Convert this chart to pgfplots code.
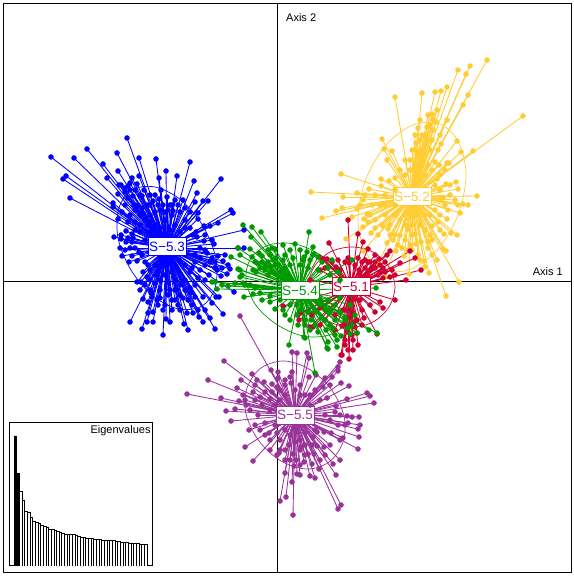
\documentclass[border=0pt]{standalone}
\usepackage{pgfplots}
\usepackage{pgfplotstable}
\usepackage{fontspec}
\setmainfont{Liberation Sans}
\pgfplotsset{compat=1.18}
\definecolor{cred}{HTML}{CC0033}
\definecolor{cyel}{HTML}{FFCC33}
\definecolor{cblu}{HTML}{0000FF}
\definecolor{cgrn}{HTML}{009900}
\definecolor{cpur}{HTML}{993399}
\pgfplotstableread[row sep=\\]{x y\\
51 157\\74 158\\87 149\\127 138\\117 153\\139 158\\156 159\\190 162\\103 164\\118 171\\166 171\\177 176\\139 176\\159 178\\107 178\\132 178\\194 181\\221 179\\66 176\\63 179\\70 198\\119 185\\121 185\\130 183\\137 184\\144 190\\161 190\\197 193\\118 194\\125 192\\142 196\\159 199\\167 197\\175 200\\183 200\\195 202\\203 201\\208 201\\113 203\\113 207\\153 201\\173 211\\198 213\\231 210\\233 213\\118 219\\130 215\\198 219\\218 223\\204 226\\210 226\\244 230\\114 237\\121 235\\126 231\\132 234\\121 239\\133 238\\132 242\\126 242\\120 248\\196 232\\204 241\\197 237\\214 244\\244 248\\238 248\\132 256\\139 252\\122 256\\129 262\\137 261\\207 253\\212 258\\223 261\\228 265\\230 269\\227 274\\221 276\\217 270\\209 275\\143 272\\147 277\\137 282\\141 282\\216 297\\219 297\\234 292\\212 303\\203 297\\223 314\\143 299\\148 302\\151 293\\157 300\\130 322\\147 322\\153 322\\166 319\\170 322\\142 329\\163 335\\184 324\\188 330\\203 322\\210 318\\215 329\\199 317\\193 313\\187 313\\180 310\\163 310\\153 312\\148 313\\195 297\\191 293\\183 298\\177 290\\170 290\\165 275\\175 280\\155 283\\185 280\\195 285\\160 290\\150 280\\172 300\\200 270\\210 262\\195 262\\190 272\\178 270\\165 265\\155 265\\150 270\\145 262\\135 248\\145 240\\150 232\\140 225\\145 220\\135 210\\150 215\\160 210\\165 220\\175 225\\185 220\\190 228\\180 212\\170 205\\150 205\\125 205\\128 198\\134 205\\122 212\\205 265\\200 248\\215 268\\222 268\\155 225\\160 228\\170 230\\180 232\\140 232\\150 222\\172 215\\165 212\\155 212\\135 222\\128 222\\185 265\\180 262\\175 290\\168 282\\160 280\\180 285\\190 288\\157 272\\172 272\\135 190\\140 195\\130 190\\125 188\\128 186\\133 196\\138 205\\142 208\\147 205\\143 213\\150 195\\155 195\\163 205\\158 205\\168 210\\172 205\\178 205\\185 208\\190 212\\185 228\\193 235\\205 235\\212 240\\205 250\\218 256\\225 255\\215 262\\200 258\\195 255\\192 268\\205 280\\198 278\\188 300\\178 305\\172 310\\165 305\\158 305\\152 297\\160 298\\168 295\\175 300\\180 295\\185 290\\192 305\\198 310\\205 310\\145 285\\150 290\\140 290\\155 275\\148 265\\142 255\\130 248\\125 250\\128 238\\135 230\\140 215\\148 225\\\\}\tblu
\pgfplotstableread[row sep=\\]{x y\\
487 60\\470 66\\458 70\\466 74\\523 116\\468 95\\463 105\\447 87\\441 91\\435 92\\422 93\\395 97\\437 110\\432 114\\447 120\\433 119\\427 127\\382 139\\457 141\\416 143\\441 144\\384 149\\392 151\\417 151\\461 152\\473 151\\387 160\\435 162\\447 163\\439 165\\449 163\\341 174\\395 178\\381 179\\389 181\\437 179\\381 186\\369 189\\446 184\\450 185\\456 182\\458 189\\311 192\\357 193\\343 197\\477 196\\363 200\\443 198\\458 205\\463 204\\468 205\\342 208\\336 211\\357 209\\460 213\\322 218\\352 217\\367 214\\364 219\\447 219\\432 226\\383 226\\363 227\\388 229\\440 230\\371 233\\451 233\\457 235\\444 234\\415 234\\408 229\\346 239\\387 243\\393 240\\416 244\\421 242\\428 248\\443 249\\446 251\\363 251\\396 251\\404 256\\424 261\\437 260\\425 267\\429 273\\409 274\\459 282\\385 277\\378 263\\446 296\\420 140\\425 145\\430 150\\423 160\\428 165\\418 165\\410 170\\432 170\\405 175\\440 175\\425 175\\415 180\\395 190\\385 195\\375 195\\380 205\\372 205\\385 215\\375 220\\395 215\\390 225\\400 235\\405 240\\410 245\\395 235\\420 225\\425 230\\430 215\\435 210\\445 205\\440 190\\435 185\\428 140\\433 130\\422 135\\418 155\\400 220\\412 250\\418 255\\385 205\\370 215\\378 235\\432 240\\425 135\\430 125\\436 122\\428 115\\440 135\\438 150\\432 140\\420 120\\418 128\\415 135\\412 150\\405 160\\400 170\\410 160\\420 150\\445 170\\450 195\\455 200\\448 210\\440 215\\438 222\\430 235\\428 242\\412 235\\408 250\\402 248\\398 245\\390 235\\382 225\\375 228\\368 222\\360 205\\365 195\\395 205\\405 215\\415 215\\425 215\\440 200\\412 225\\405 225\\420 260\\432 255\\\\}\tyel
\pgfplotstableread[row sep=\\]{x y\\
348 220\\358 234\\363 242\\329 243\\368 249\\390 251\\410 251\\415 258\\348 258\\358 258\\365 260\\319 257\\324 259\\327 259\\336 267\\349 263\\359 270\\379 259\\387 255\\372 267\\400 263\\421 270\\390 277\\406 280\\383 268\\323 259\\383 308\\355 299\\342 355\\349 359\\353 323\\353 340\\357 333\\348 332\\362 310\\364 318\\342 326\\310 327\\299 320\\300 313\\283 306\\343 310\\350 317\\355 327\\352 312\\360 300\\341 355\\353 350\\377 334\\344 325\\313 327\\298 315\\320 270\\310 280\\370 270\\375 268\\378 275\\368 275\\383 278\\360 275\\375 262\\380 272\\368 262\\345 340\\385 262\\392 270\\395 275\\380 265\\385 272\\370 262\\375 255\\365 268\\362 262\\355 265\\345 262\\338 260\\332 262\\325 268\\340 270\\345 310\\350 325\\357 320\\362 325\\352 335\\358 345\\345 345\\348 350\\335 315\\325 320\\320 325\\335 330\\312 315\\320 308\\370 305\\375 312\\380 302\\395 300\\\\}\tred
\pgfplotstableread[row sep=\\]{x y\\
243 225\\252 227\\261 232\\231 257\\240 255\\252 257\\259 253\\253 270\\242 275\\238 269\\212 282\\243 283\\244 297\\253 294\\275 309\\283 310\\275 249\\283 245\\295 244\\309 232\\304 257\\293 258\\283 260\\314 254\\318 257\\273 260\\268 262\\278 265\\270 267\\297 305\\290 305\\305 320\\297 315\\311 320\\304 337\\289 345\\325 320\\326 330\\333 328\\328 342\\337 347\\327 348\\341 336\\369 330\\377 333\\348 328\\357 333\\376 288\\352 260\\215 282\\217 289\\238 248\\240 270\\240 277\\256 272\\250 249\\251 237\\313 247\\307 252\\313 255\\332 260\\303 260\\315 373\\305 338\\328 349\\337 340\\350 334\\262 262\\270 255\\276 258\\265 270\\258 264\\285 268\\280 272\\290 265\\300 265\\308 268\\318 270\\328 268\\338 272\\325 310\\320 305\\330 312\\335 320\\315 312\\308 312\\345 320\\300 310\\260 293\\270 296\\250 285\\255 262\\260 268\\265 265\\272 272\\275 265\\268 275\\278 275\\285 255\\290 250\\300 250\\310 260\\322 262\\262 256\\268 250\\272 248\\320 300\\328 300\\335 305\\340 312\\345 318\\352 325\\322 318\\330 325\\335 335\\315 325\\318 332\\310 330\\305 325\\298 325\\290 320\\285 315\\340 298\\350 305\\355 315\\280 300\\270 302\\262 300\\255 288\\245 285\\235 283\\228 286\\222 285\\330 275\\340 280\\\\}\tgrn
\pgfplotstableread[row sep=\\]{x y\\
240 316\\224 361\\208 380\\187 394\\221 398\\239 401\\226 411\\235 409\\231 421\\246 405\\249 430\\245 447\\253 461\\270 450\\277 455\\279 453\\277 433\\269 433\\265 423\\252 374\\271 370\\278 372\\241 380\\257 380\\264 382\\272 384\\237 388\\255 385\\243 395\\253 392\\260 397\\270 399\\277 387\\292 352\\297 353\\307 353\\309 358\\292 372\\290 377\\291 383\\309 377\\340 362\\338 367\\338 371\\332 377\\341 383\\323 387\\349 386\\327 398\\347 399\\336 406\\367 393\\370 396\\374 403\\347 416\\352 417\\359 417\\348 423\\360 425\\358 429\\338 425\\359 437\\358 449\\343 438\\331 433\\324 432\\340 460\\333 464\\336 475\\324 447\\317 446\\314 454\\308 454\\301 447\\312 464\\319 469\\310 476\\315 478\\294 466\\297 474\\292 482\\285 473\\286 497\\280 501\\293 515\\341 505\\338 509\\293 454\\289 445\\295 442\\305 433\\313 437\\317 432\\310 395\\320 400\\315 390\\300 385\\285 395\\280 400\\275 405\\270 410\\275 425\\285 430\\280 440\\295 390\\305 395\\310 405\\325 415\\330 420\\315 430\\300 440\\290 435\\305 445\\285 450\\296 460\\300 465\\316 375\\325 378\\330 385\\340 415\\335 412\\345 425\\340 440\\330 445\\325 455\\320 460\\312 445\\305 455\\300 450\\300 475\\304 462\\290 460\\285 460\\280 450\\270 440\\265 435\\260 430\\255 425\\258 415\\250 410\\245 400\\255 400\\262 405\\265 392\\272 392\\280 390\\285 380\\278 378\\285 385\\300 395\\\\}\tpur
\pgfplotstableread[row sep=\\]{x y\\
1 130\\2 92.7\\\\}\eigblack
\pgfplotstableread[row sep=\\]{x y\\
3 74.7\\4 65.7\\5 54.7\\6 53.7\\7 48.3\\8 45\\9 43.7\\10 42.3\\11 40.7\\12 39.7\\13 38.3\\14 36.7\\15 36.3\\16 35.3\\17 34.3\\18 33.3\\19 32.3\\20 32\\21 31.7\\22 31.7\\23 31.3\\24 30.3\\25 29.3\\26 29\\27 28.3\\28 27.7\\29 27.7\\30 27.3\\31 26.7\\32 26.3\\33 26.3\\34 26\\35 25.7\\36 25.3\\37 25.3\\38 25.3\\39 24.7\\40 24.3\\41 24\\42 23.3\\43 23.3\\44 23\\45 22.7\\46 22.7\\47 22.3\\48 21.7\\49 21.7\\50 21.3\\\\}\eigwhite
\newcommand{\grp}[4]{%
  \addplot[#1, line width=0.85bp, no marks, quiver={u=#2-\thisrow{x}, v=#3-\thisrow{y}}] table[x=x,y=y]{#4};
  \addplot[only marks, mark=*, mark size=2.6bp, mark options={fill=#1,draw=#1,line width=0.2bp}] table[x=x,y=y]{#4};
}
\newcommand{\ellp}[2]{\addplot[#1, line width=0.7bp, smooth cycle, no marks, tension=0.55] coordinates {#2};}
\tikzset{lab/.style={draw=#1, text=#1, fill=white, line width=1bp, minimum width=38bp, minimum height=18bp, inner sep=0pt, font=\fontsize{13.5bp}{15bp}\selectfont}}
\begin{document}
\begin{tikzpicture}[x=1bp,y=1bp]
\path (0,0) rectangle (574,576);
\begin{axis}[at={(0bp,0bp)},anchor=south west,scale only axis,width=574bp,height=576bp,xmin=0,xmax=574,ymin=0,ymax=576,y dir=reverse,hide axis,clip=false]
\addplot[black,line width=1bp,no marks] coordinates {(3,4) (571,4) (571,572) (3,572) (3,4)};
\addplot[black,line width=1bp,no marks] coordinates {(3,282) (571,282)};
\addplot[black,line width=1bp,no marks] coordinates {(277,4) (277,572)};
\grp{cyel}{412}{197}{\tyel}
\ellp{cyel}{(440,124) (459,143) (466,176) (458,215) (438,249) (411,269) (384,270) (365,251) (358,218) (366,179) (386,145) (413,125)}
\grp{cred}{351}{287}{\tred}
\ellp{cred}{(395,287) (389,267) (373,252) (352,247) (330,252) (314,267) (308,287) (314,307) (330,322) (352,327) (373,322) (389,307)}
\grp{cblu}{167}{248}{\tblu}
\ellp{cblu}{(202,306) (179,309) (153,296) (131,270) (118,238) (119,208) (132,190) (155,187) (181,200) (203,226) (216,259) (215,288)}
\grp{cpur}{295}{415}{\tpur}
\ellp{cpur}{(329,462) (307,469) (281,461) (259,441) (246,414) (247,388) (261,368) (284,361) (309,369) (331,389) (344,416) (343,442)}
\grp{cgrn}{300}{290}{\tgrn}
\ellp{cgrn}{(347,322) (329,335) (303,336) (276,324) (255,304) (246,279) (251,258) (269,245) (295,244) (322,256) (343,277) (352,301)}
\node[lab=cred] at (axis cs:351,287) {S−5.1};
\node[lab=cyel] at (axis cs:412,197) {S−5.2};
\node[lab=cblu] at (axis cs:167,247) {S−5.3};
\node[lab=cgrn] at (axis cs:300,290.5) {S−5.4};
\node[lab=cpur] at (axis cs:295,415) {S−5.5};
\node[anchor=west,inner sep=0pt,font=\fontsize{11bp}{13bp}\selectfont] at (axis cs:286,18) {Axis 2};
\node[anchor=east,inner sep=0pt,font=\fontsize{11bp}{13bp}\selectfont] at (axis cs:563,272) {Axis 1};
\end{axis}
\begin{axis}[at={(9bp,10bp)},anchor=south west,scale only axis,width=143bp,height=143bp,xmin=-1.38,xmax=52.38,ymin=0,ymax=143,xtick=\empty,ytick=\empty,axis line style={line width=1bp},ybar,bar shift=0pt,bar width=2.66bp]
\addplot[draw=black,fill=black,line width=0.8bp] table[x=x,y=y]{\eigblack};
\addplot[draw=black,fill=white,line width=0.8bp] table[x=x,y=y]{\eigwhite};
\node[anchor=east,inner sep=0pt,font=\fontsize{11bp}{13bp}\selectfont] at (axis cs:51.9,135) {Eigenvalues};
\end{axis}
\end{tikzpicture}
\end{document}
